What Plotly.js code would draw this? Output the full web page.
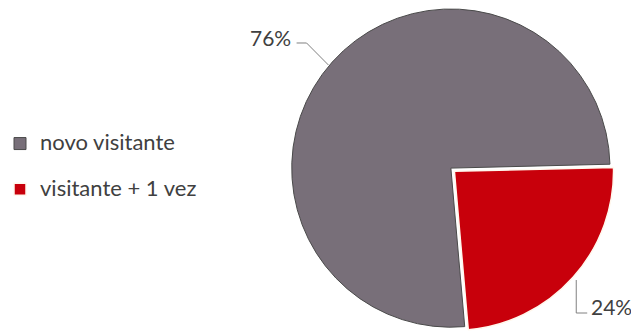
<!DOCTYPE html>
<html>
<head>
<meta charset="utf-8">
<script src="https://cdn.plot.ly/plotly-3.0.1.min.js"></script>
<style>html,body{margin:0;padding:0;background:#fff;}#chart{width:631px;height:332px;}</style>
</head>
<body>
<div id="chart"></div>
<script>
const labels = ['novo visitante', 'visitante + 1 vez'];
const values = [76, 24];
const colors = ['#786f79', '#c8000b'];
const pct = values.map(v => v + '%');

const W = 631, H = 332;
const cx = 450, cy = 169, r = 160, pull = 0.03;
const half = r * (1 + pull);

// legend row spacing: two text lines of the legend font (second one empty),
// the visible label drawn larger inside a span
const legendFs = 16.4, labelFs = 22;

const trace = {
  type: 'pie',
  labels: labels.map(l => '<span style="font-size:' + labelFs + 'px">' + l + '</span><br> '),
  values: values,
  sort: false,
  direction: 'counterclockwise',
  rotation: 175,
  pull: [0, pull],
  textinfo: 'none',
  hoverinfo: 'none',
  marker: {colors: colors, line: {color: ['#4a4a4a', '#fff8ee'], width: [1, 1.5]}},
  domain: {x: [(cx - half) / W, (cx + half) / W], y: [(H - cy - half) / H, (H - cy + half) / H]}
};

function px(x, y) { return (x / W).toFixed(4) + ',' + (1 - y / H).toFixed(4); }

const layout = {
  width: W, height: H,
  margin: {l: 0, r: 0, t: 0, b: 0},
  paper_bgcolor: '#ffffff',
  font: {family: 'Lato, Carlito, sans-serif', color: '#404040', size: 21},
  showlegend: true,
  legend: {x: -0.005, xanchor: 'left', y: 1 - 126.4 / H, yanchor: 'top', valign: 'top',
           font: {size: legendFs, color: '#404040'}, bgcolor: 'rgba(0,0,0,0)'},
  annotations: [
    {text: pct[0], xref: 'paper', yref: 'paper', x: 269 / W, y: 1 - 37 / H, showarrow: false,
     xanchor: 'center', yanchor: 'middle', font: {size: 21, color: '#404040'}},
    {text: pct[1], xref: 'paper', yref: 'paper', x: 589 / W, y: 1 - 306 / H, showarrow: false,
     xanchor: 'left', yanchor: 'middle', font: {size: 21, color: '#404040'}}
  ],
  shapes: [
    {type: 'path', xref: 'paper', yref: 'paper', path: 'M' + px(295, 43) + 'L' + px(305, 43) + 'L' + px(327, 65),
     line: {color: '#808080', width: 1}},
    {type: 'path', xref: 'paper', yref: 'paper', path: 'M' + px(576, 280) + 'L' + px(576, 313) + 'L' + px(587, 313),
     line: {color: '#808080', width: 1}}
  ]
};

Plotly.newPlot('chart', [trace], layout, {displayModeBar: false, staticPlot: true});
</script>
</body>
</html>
